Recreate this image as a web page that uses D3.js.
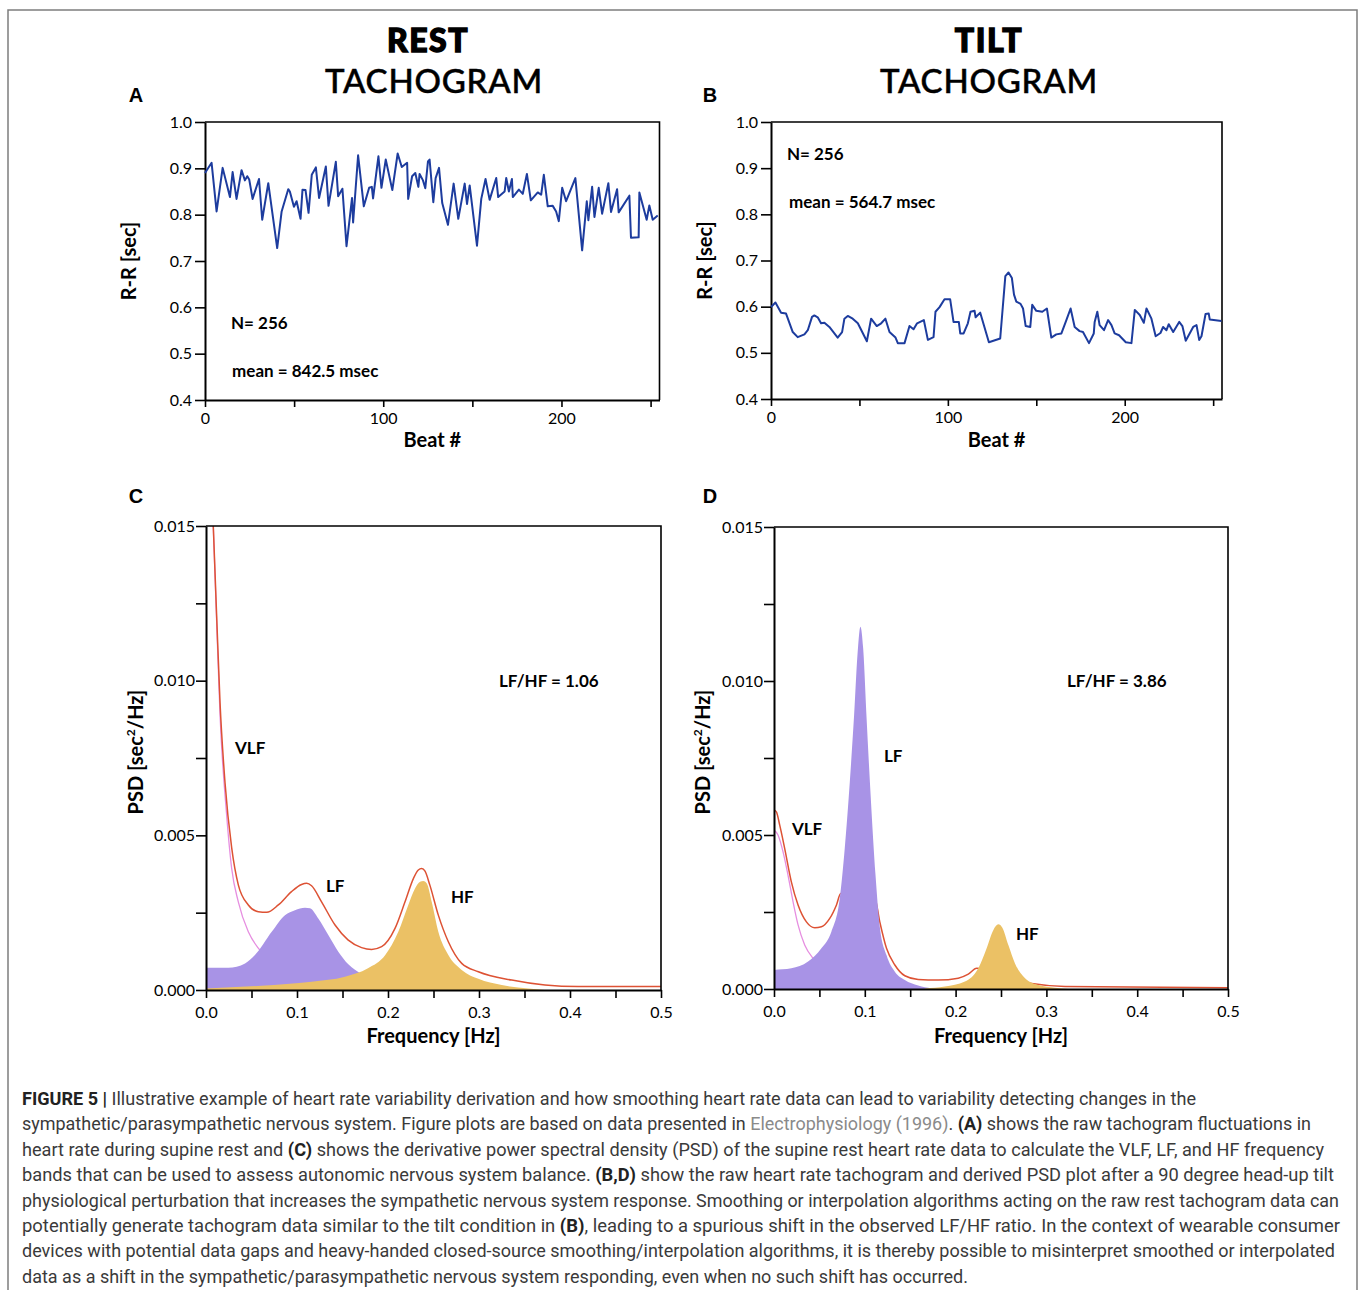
<!DOCTYPE html>
<html>
<head>
<meta charset="utf-8">
<script src="https://cdn.jsdelivr.net/npm/d3@7"></script>
<style>
  body { margin: 0; background: #fff; }
  svg text { font-family: Lato, "Open Sans", sans-serif; fill: #000; }
  .axis path, .axis line { stroke: #000; }
  .axis path { stroke-width: 2; }
  .axis line { stroke-width: 1.6; }
  .axis text { font-size: 16px; }
  .note { font-size: 17px; font-weight: 700; }
  .atitle { font-size: 20px; font-weight: 700; }
  .letter { font-family: "Liberation Sans", Arial, sans-serif; font-size: 20px; font-weight: 700; }
  .caption text { font-family: Roboto, "Liberation Sans", sans-serif; font-size: 17.5px; font-weight: 400; fill: #3a3a3a; }
</style>
</head>
<body>
<div id="chart"></div>
<script>
// --- tachogram data ---
const restBeat = [0, 3.7, 6.5, 9.9, 14, 15.5, 17.7, 20.5, 22.4, 23.7,
  24.8, 26.7, 30.3, 32.1, 35.5, 40.5, 43, 46.7, 47.6, 49.9,
  51.4, 53.6, 54.7, 56.4, 58.1, 59.9, 62.2, 64, 67.8, 69.3,
  73.4, 74.7, 77.1, 79.4, 82.5, 83.1, 85.9, 89.1, 92.1, 93.6,
  94.3, 97.3, 99, 101.4, 105.1, 108.1, 110.4, 113.4, 114, 116.2,
  118, 119.7, 120.4, 122.3, 123.6, 125.1, 126, 128.1, 129.4, 131.3,
  133.1, 136.3, 139.5, 142.1, 145.7, 147, 148.5, 152.6, 155, 157.4,
  159.7, 163.4, 164.5, 168.1, 169, 170.5, 172.2, 172.7, 176.1, 178.3,
  180.6, 182.8, 186.7, 188.6, 190.1, 192.3, 195.1, 197, 198.5, 200.4,
  202.6, 207.8, 211.6, 214.2, 215.1, 217.2, 218.5, 220.9, 222.8, 226.3,
  227.8, 231.2, 232.1, 238.1, 239, 243.3, 243.7, 247.8, 249.3, 251.2, 254];
const restRR = [0.890, 0.912, 0.807, 0.901, 0.838, 0.892, 0.834, 0.896, 0.874, 0.883,
  0.876, 0.834, 0.877, 0.789, 0.868, 0.728, 0.807, 0.855, 0.850, 0.817,
  0.829, 0.791, 0.854, 0.853, 0.804, 0.886, 0.902, 0.836, 0.904, 0.819,
  0.914, 0.840, 0.856, 0.732, 0.836, 0.783, 0.928, 0.818, 0.858, 0.860,
  0.835, 0.926, 0.858, 0.919, 0.853, 0.932, 0.903, 0.912, 0.834, 0.883,
  0.890, 0.860, 0.888, 0.874, 0.857, 0.915, 0.919, 0.827, 0.879, 0.901,
  0.825, 0.778, 0.867, 0.791, 0.867, 0.823, 0.863, 0.733, 0.834, 0.877,
  0.832, 0.879, 0.838, 0.850, 0.879, 0.850, 0.877, 0.838, 0.854, 0.845,
  0.888, 0.831, 0.848, 0.843, 0.886, 0.818, 0.819, 0.807, 0.786, 0.858,
  0.829, 0.879, 0.723, 0.829, 0.788, 0.860, 0.795, 0.858, 0.802, 0.868,
  0.806, 0.855, 0.805, 0.841, 0.750, 0.751, 0.848, 0.789, 0.820, 0.789, 0.798];

const tiltBeat = [0, 2.5, 5.7, 8.5, 12.3, 15.1, 18.9, 20.8, 23.2, 24.5,
  26.4, 28.3, 30.2, 33, 37.7, 40.2, 41.5, 43.4, 46.2, 49.1,
  54.2, 56.6, 59.8, 62.3, 64.7, 67, 70.4, 71.7, 75.5, 78.3,
  80.6, 82.6, 86.4, 88.7, 91.9, 93, 95.3, 98.1, 101.3, 103.2,
  106.2, 107, 108.9, 111.3, 112.8, 115.1, 115.7, 118.3, 123.2, 129.6,
  132.5, 134.3, 136.2, 137.4, 138.7, 141.1, 142.5, 144, 146.6, 147.7,
  150, 153.4, 156, 158.5, 161.3, 164.2, 167, 169.4, 171.7, 174.5,
  176.4, 179.8, 182.5, 183, 184.5, 185.8, 188.3, 190.6, 192.5, 194.3,
  196.8, 200.6, 203.8, 205.7, 208.5, 210.8, 212.3, 215.1, 217.5, 220.2,
  221.7, 223.6, 224.9, 227.4, 230.8, 232.6, 234.5, 238.7, 240.6, 242.1,
  243.4, 245.7, 247.5, 248.1, 254.7];
const tiltRR = [0.599, 0.609, 0.587, 0.585, 0.545, 0.534, 0.540, 0.549, 0.578, 0.581,
  0.577, 0.564, 0.565, 0.556, 0.533, 0.545, 0.574, 0.580, 0.574, 0.564,
  0.525, 0.574, 0.558, 0.564, 0.574, 0.545, 0.533, 0.521, 0.521, 0.558,
  0.551, 0.564, 0.571, 0.528, 0.534, 0.589, 0.599, 0.616, 0.616, 0.567,
  0.567, 0.542, 0.542, 0.564, 0.589, 0.591, 0.577, 0.587, 0.523, 0.531,
  0.666, 0.674, 0.662, 0.626, 0.611, 0.606, 0.596, 0.558, 0.556, 0.604,
  0.591, 0.589, 0.596, 0.533, 0.540, 0.542, 0.571, 0.596, 0.556, 0.547,
  0.545, 0.521, 0.542, 0.567, 0.589, 0.560, 0.549, 0.571, 0.560, 0.542,
  0.538, 0.523, 0.521, 0.593, 0.582, 0.565, 0.596, 0.574, 0.536, 0.543,
  0.556, 0.549, 0.562, 0.545, 0.567, 0.558, 0.526, 0.556, 0.560, 0.528,
  0.536, 0.584, 0.585, 0.572, 0.569];

// --- PSD data, rest (panel C) ---
const restTotalF = [0.004, 0.008, 0.0117, 0.0154, 0.0209, 0.0282, 0.0355, 0.0465, 0.0575, 0.0667,
  0.0795, 0.094, 0.105, 0.1106, 0.116, 0.127, 0.1418, 0.156, 0.171, 0.182,
  0.193, 0.2077, 0.2187, 0.228, 0.2333, 0.237, 0.2407, 0.246, 0.2553, 0.2663,
  0.281, 0.2993, 0.336, 0.3725, 0.409, 0.5];
const restTotalP = [0.018, 0.015, 0.0121, 0.0093, 0.0067, 0.0046, 0.0034, 0.00275, 0.00253, 0.00251,
  0.00275, 0.00318, 0.00341, 0.00345, 0.00337, 0.00285, 0.0021, 0.00162, 0.00137, 0.00131,
  0.0014, 0.00199, 0.00285, 0.00361, 0.00388, 0.00393, 0.00384, 0.00339, 0.00242, 0.00156,
  0.00086, 0.00059, 0.00032, 0.00016, 0.00011, 0.00011];
const restVlfF = [0.004, 0.008, 0.0117, 0.0154, 0.0227, 0.0282, 0.0355, 0.0465, 0.0575, 0.063, 0.08, 0.1];
const restVlfP = [0.018, 0.015, 0.0119, 0.0089, 0.00565, 0.00393, 0.00285, 0.00188, 0.00135, 0.00115, 0.0008, 0.0005];
const restLfF = [0, 0.0245, 0.0429, 0.0538, 0.0722, 0.0868, 0.0978, 0.1088, 0.1143, 0.1234,
  0.1344, 0.1454, 0.1564, 0.171, 0.182, 0.193, 0.2077, 0.226];
const restLfP = [0.00072, 0.00072, 0.00086, 0.00113, 0.00188, 0.00242, 0.00258, 0.00266, 0.00264, 0.00231,
  0.00178, 0.00124, 0.00083, 0.00051, 0.00032, 0.00016, 0.00005, 0];
const restHfF = [0, 0.061, 0.116, 0.1527, 0.178, 0.197, 0.2113, 0.2223, 0.2297, 0.2352,
  0.2388, 0.2425, 0.248, 0.2553, 0.2663, 0.281, 0.2993, 0.325, 0.354, 0.3725];
const restHfP = [0.00005, 0.00014, 0.00027, 0.00043, 0.0007, 0.00113, 0.00188, 0.00275, 0.00328, 0.0035,
  0.00352, 0.00345, 0.00285, 0.00188, 0.00113, 0.00065, 0.00036, 0.00016, 0.00005, 0];

// --- PSD data, tilt (panel D) ---
const tiltTotalF = [0, 0.0026, 0.0063, 0.0118, 0.0191, 0.0265, 0.0357, 0.0449, 0.0522, 0.0614,
  0.0688, 0.0735, 0.111, 0.1165, 0.1239, 0.1331, 0.1441, 0.1588, 0.1809, 0.2029,
  0.214, 0.2232, 0.2838, 0.3206, 0.5];
const tiltTotalP = [0.00581, 0.00575, 0.00532, 0.00456, 0.00348, 0.00273, 0.00218, 0.00199, 0.00202, 0.00229,
  0.00273, 0.0031, 0.00294, 0.00218, 0.00132, 0.00078, 0.00043, 0.00031, 0.00029, 0.00035,
  0.00048, 0.00067, 0.00018, 0.00008, 0.00004];
const tiltVlfF = [0, 0.0044, 0.0099, 0.0154, 0.021, 0.0265, 0.0338, 0.043, 0.055, 0.07];
const tiltVlfP = [0.00516, 0.005, 0.00446, 0.0037, 0.00283, 0.00208, 0.00143, 0.001, 0.0007, 0.0004];
const tiltLfF = [0, 0.0191, 0.0375, 0.0522, 0.0632, 0.0724, 0.0779, 0.0835, 0.0882, 0.0919,
  0.0952, 0.0982, 0.1018, 0.1066, 0.1118, 0.1165, 0.1239, 0.1331, 0.1441, 0.1588, 0.1735];
const tiltLfP = [0.00062, 0.00067, 0.00089, 0.00132, 0.00186, 0.00294, 0.00456, 0.00673, 0.00889, 0.01084,
  0.01176, 0.01106, 0.00889, 0.00619, 0.0037, 0.00202, 0.0011, 0.00056, 0.00029, 0.00011, 0.00002];
const tiltHfF = [0.1662, 0.1882, 0.2103, 0.225, 0.2342, 0.2415, 0.2471, 0.2515, 0.2581, 0.2654,
  0.2765, 0.2912, 0.3096, 0.3243];
const tiltHfP = [0.00002, 0.00008, 0.00024, 0.00067, 0.00132, 0.00191, 0.0021, 0.00199, 0.00143, 0.00083,
  0.00035, 0.00013, 0.00004, 0];

// --- ticks ---
const rrTicks = [0.4, 0.5, 0.6, 0.7, 0.8, 0.9, 1.0];
const beatTicks = [0, 50, 100, 150, 200, 250];
const beatLabels = ["0", "", "100", "", "200", ""];
const freqTicks = [0, 0.05, 0.1, 0.15, 0.2, 0.25, 0.3, 0.35, 0.4, 0.45, 0.5];
const freqLabels = ["0.0", "", "0.1", "", "0.2", "", "0.3", "", "0.4", "", "0.5"];
const psdTicks = [0, 0.0025, 0.005, 0.0075, 0.01, 0.0125, 0.015];
const psdLabels = ["0.000", "", "0.005", "", "0.010", "", "0.015"];

const captionLines = [
  "**FIGURE 5 |** Illustrative example of heart rate variability derivation and how smoothing heart rate data can lead to variability detecting changes in the",
  "sympathetic/parasympathetic nervous system. Figure plots are based on data presented in ~Electrophysiology (1996)~. **(A)** shows the raw tachogram fluctuations in",
  "heart rate during supine rest and **(C)** shows the derivative power spectral density (PSD) of the supine rest heart rate data to calculate the VLF, LF, and HF frequency",
  "bands that can be used to assess autonomic nervous system balance. **(B,D)** show the raw heart rate tachogram and derived PSD plot after a 90 degree head-up tilt",
  "physiological perturbation that increases the sympathetic nervous system response. Smoothing or interpolation algorithms acting on the raw rest tachogram data can",
  "potentially generate tachogram data similar to the tilt condition in **(B)**, leading to a spurious shift in the observed LF/HF ratio. In the context of wearable consumer",
  "devices with potential data gaps and heavy-handed closed-source smoothing/interpolation algorithms, it is thereby possible to misinterpret smoothed or interpolated",
  "data as a shift in the sympathetic/parasympathetic nervous system responding, even when no such shift has occurred."
];
const captionEnds = [1196, 1311, 1324, 1334, 1339, 1340, 1335, 968];

const W = 1360, H = 1290;
const svg = d3.select("#chart").append("svg")
  .attr("width", W).attr("height", H);

// figure frame
svg.append("path")
  .attr("d", "M8,1292V10H1357V1292")
  .attr("fill", "none").attr("stroke", "#7d7d7d").attr("stroke-width", 1.5);

// column headings
function heading(cx, top, bottom) {
  svg.append("text").attr("x", cx).attr("y", 52).attr("text-anchor", "middle")
    .style("font-size", "32px").style("font-weight", 900).style("letter-spacing", "1.5px")
    .style("stroke", "#000").style("stroke-width", 1.3).text(top);
  svg.append("text").attr("x", bottom).attr("y", 93).attr("text-anchor", "middle")
    .style("font-size", "33px").style("font-weight", 500).style("letter-spacing", "0.8px")
    .style("stroke", "#000").style("stroke-width", 0.5).text("TACHOGRAM");
}
heading(428, "REST", 434);
heading(989, "TILT", 989);

function frame(g, x0, x1, y0, y1) {
  g.append("path")
    .attr("d", `M${x0},${y0}H${x1}V${y1}`)
    .attr("fill", "none").attr("stroke", "#000").attr("stroke-width", 1.6);
}

// ---------- tachogram panels ----------
function tachogram(p) {
  const g = svg.append("g");
  const x = d3.scaleLinear().domain([0, 255]).range([p.x0, p.x1]);
  const y = d3.scaleLinear().domain([0.4, 1.0]).range([p.y1, p.y0]);

  frame(g, p.x0, p.x1, p.y0, p.y1);

  g.append("g").attr("class", "axis")
    .attr("transform", `translate(${p.x0},0)`)
    .call(d3.axisLeft(y).tickValues(rrTicks).tickFormat(d3.format(".1f"))
      .tickSize(10).tickSizeOuter(0).tickPadding(3));

  g.append("g").attr("class", "axis")
    .attr("transform", `translate(0,${p.y1})`)
    .call(d3.axisBottom(x).tickValues(beatTicks).tickFormat((d, i) => beatLabels[i])
      .tickSize(7).tickSizeOuter(0).tickPadding(6));

  const pts = p.beats.map((b, i) => [b, p.rr[i]]);
  g.append("path")
    .datum(pts)
    .attr("fill", "none")
    .attr("stroke", "#1d3c9e")
    .attr("stroke-width", 2)
    .attr("stroke-linejoin", "round")
    .attr("d", d3.line().x(d => x(d[0])).y(d => y(d[1])));

  g.append("text").attr("class", "note").attr("x", x(p.nPos[0])).attr("y", y(p.nPos[1])).text("N= 256");
  g.append("text").attr("class", "note").attr("x", x(p.meanPos[0])).attr("y", y(p.meanPos[1])).text(p.meanText);

  g.append("text").attr("class", "atitle").attr("text-anchor", "middle")
    .attr("x", (p.x0 + p.x1) / 2).attr("y", 447).text("Beat #");
  g.append("text").attr("class", "atitle").attr("text-anchor", "middle")
    .attr("transform", `translate(${p.ytx},${(p.y0 + p.y1) / 2}) rotate(-90)`).text("R-R [sec]");
  g.append("text").attr("class", "letter").attr("text-anchor", "middle")
    .attr("x", p.lx).attr("y", 102).text(p.letter);
}

tachogram({ x0: 205, x1: 659.5, y0: 122, y1: 400, beats: restBeat, rr: restRR,
  nPos: [14.6, 0.553], meanPos: [15.2, 0.4496], meanText: "mean = 842.5 msec",
  ytx: 136, lx: 136, letter: "A" });
tachogram({ x0: 771, x1: 1222, y0: 122, y1: 399, beats: tiltBeat, rr: tiltRR,
  nPos: [9.0, 0.918], meanPos: [10.2, 0.814], meanText: "mean = 564.7 msec",
  ytx: 712, lx: 710, letter: "B" });

// ---------- PSD panels ----------
function psd(p, id) {
  const g = svg.append("g");
  const x = d3.scaleLinear().domain([0, 0.5]).range([p.x0, p.x1]);
  const y = d3.scaleLinear().domain([0, 0.015]).range([p.y1, p.y0]);

  svg.append("clipPath").attr("id", id)
    .append("rect").attr("x", p.x0).attr("y", p.y0)
    .attr("width", p.x1 - p.x0).attr("height", p.y1 - p.y0);

  const plot = g.append("g").attr("clip-path", `url(#${id})`);
  const zip = (f, v) => f.map((d, i) => [d, v[i]]);
  const line = d3.line().curve(d3.curveMonotoneX).x(d => x(d[0])).y(d => y(d[1]));
  const area = d3.area().curve(d3.curveMonotoneX).x(d => x(d[0])).y0(y(0)).y1(d => y(d[1]));

  plot.append("path").datum(zip(p.vlfF, p.vlfP))
    .attr("fill", "none").attr("stroke", "#e68ee0").attr("stroke-width", 1.3).attr("d", line);
  plot.append("path").datum(zip(p.totF, p.totP))
    .attr("fill", "none").attr("stroke", "#dd5234").attr("stroke-width", 1.5).attr("d", line);
  plot.append("path").datum(zip(p.lfF, p.lfP))
    .attr("fill", "#a893e6").attr("d", area);
  plot.append("path").datum(zip(p.hfF, p.hfP))
    .attr("fill", "#ebc165").attr("d", area);

  frame(g, p.x0, p.x1, p.y0, p.y1);

  g.append("g").attr("class", "axis")
    .attr("transform", `translate(${p.x0},0)`)
    .call(d3.axisLeft(y).tickValues(psdTicks).tickFormat((d, i) => psdLabels[i])
      .tickSize(10).tickSizeOuter(0).tickPadding(1));

  g.append("g").attr("class", "axis")
    .attr("transform", `translate(0,${p.y1})`)
    .call(d3.axisBottom(x).tickValues(freqTicks).tickFormat((d, i) => freqLabels[i])
      .tickSize(8).tickSizeOuter(0).tickPadding(9));

  p.notes.forEach(n => {
    g.append("text").attr("class", "note")
      .attr("x", x(n[0])).attr("y", y(n[1])).text(n[2]);
  });

  g.append("text").attr("class", "atitle").attr("text-anchor", "middle")
    .attr("x", (p.x0 + p.x1) / 2).attr("y", 1043).text("Frequency [Hz]");
  const yt = g.append("text").attr("class", "atitle").attr("text-anchor", "middle")
    .attr("transform", `translate(${p.ytx},752) rotate(-90)`);
  yt.append("tspan").text("PSD [sec");
  yt.append("tspan").style("font-size", "12px").attr("dy", -8).text("2");
  yt.append("tspan").attr("dy", 8).text("/Hz]");
  g.append("text").attr("class", "letter").attr("text-anchor", "middle")
    .attr("x", p.lx).attr("y", 503).text(p.letter);
}

psd({ x0: 206, x1: 661, y0: 526, y1: 990,
  totF: restTotalF, totP: restTotalP, vlfF: restVlfF, vlfP: restVlfP,
  lfF: restLfF, lfP: restLfP, hfF: restHfF, hfP: restHfP,
  notes: [[0.322, 0.0098, "LF/HF = 1.06"], [0.0319, 0.00763, "VLF"],
          [0.1319, 0.00317, "LF"], [0.2692, 0.00281, "HF"]],
  ytx: 143, lx: 136, letter: "C" }, "clipC");
psd({ x0: 774, x1: 1228, y0: 527, y1: 989,
  totF: tiltTotalF, totP: tiltTotalP, vlfF: tiltVlfF, vlfP: tiltVlfP,
  lfF: tiltLfF, lfP: tiltLfP, hfF: tiltHfF, hfP: tiltHfP,
  notes: [[0.3227, 0.0098, "LF/HF = 3.86"], [0.0198, 0.005, "VLF"],
          [0.1211, 0.00737, "LF"], [0.2665, 0.00159, "HF"]],
  ytx: 710, lx: 710, letter: "D" }, "clipD");

// ---------- caption ----------
const cap = svg.append("g").attr("class", "caption");
captionLines.forEach((ln, i) => {
  const t = cap.append("text")
    .attr("x", 22).attr("y", 1105 + i * 25.4)
    .attr("textLength", captionEnds[i] - 22)
    .attr("lengthAdjust", "spacingAndGlyphs");
  ln.split(/(\*\*[^*]+\*\*|~[^~]+~)/).filter(s => s.length).forEach(s => {
    if (s.startsWith("**")) {
      t.append("tspan").style("font-weight", 700).style("fill", "#222").text(s.slice(2, -2));
    } else if (s.startsWith("~")) {
      t.append("tspan").style("fill", "#8a8a8a").text(s.slice(1, -1));
    } else {
      t.append("tspan").text(s);
    }
  });
});
</script>
</body>
</html>
